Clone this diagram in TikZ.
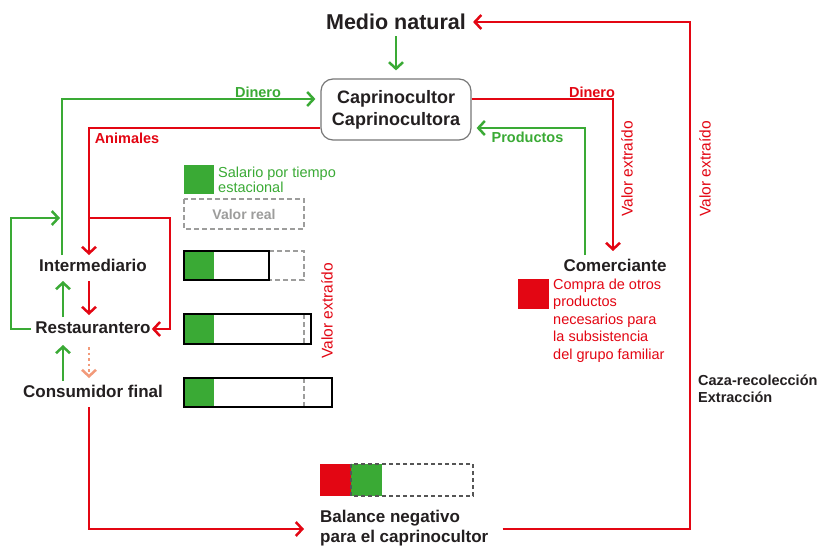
\documentclass[tikz,border=0pt]{standalone}
\usepackage{fontspec}
\setmainfont{Liberation Sans}
\usetikzlibrary{arrows.meta,calc}
\definecolor{cgreen}{HTML}{3AAA35}
\definecolor{cred}{HTML}{E30613}
\definecolor{cdark}{HTML}{231F20}
\definecolor{cgray}{HTML}{9D9D9C}
\definecolor{cdgray}{HTML}{555555}
\definecolor{csalmon}{HTML}{F29A7A}
\begin{document}
\begin{tikzpicture}[x=1pt,y=-1pt,
  gline/.style={draw=cgreen,line width=2.5pt},
  rline/.style={draw=cred,line width=2.5pt},
  arr/.style={-{Straight Barb[length=6.5pt,width=14pt]}},
  actor/.style={font=\fontsize{17}{20}\selectfont\bfseries,text=cdark,inner sep=0pt,align=center},
  flow/.style={font=\fontsize{14.5}{17}\selectfont\bfseries,inner sep=0pt,anchor=base},
  vext/.style={font=\fontsize{15.5}{18}\selectfont,text=cred,rotate=90,inner sep=0pt},
  note/.style={font=\fontsize{14.5}{17.5}\selectfont,inner sep=0pt,anchor=base west,align=left},
  sbox/.style={draw=black,line width=2.8pt},
  dbox/.style={draw=cgray,line width=2pt,dash pattern=on 5pt off 3pt},
  gfill/.style={fill=cgreen,draw=none},
  rfill/.style={fill=cred,draw=none}
]
\fill[white] (0,0) rectangle (819,546);
\useasboundingbox (0,0) rectangle (819,546);

% main nodes
\node[actor,font=\fontsize{21.5}{24}\selectfont\bfseries] (medio) at (396,22) {Medio natural};
\node[draw=cdgray!80,line width=1.2pt,rounded corners=12pt,minimum width=150pt,minimum height=61pt,
      font=\fontsize{18}{22}\selectfont\bfseries,text=cdark,align=center,inner sep=0pt] (capr) at (396,109.5)
      {Caprinocultor\\Caprinocultora};
\node[actor] (inter) at (93,265) {Intermediario};
\node[actor] (rest) at (93,328) {Restaurantero};
\node[actor] (cons) at (93,391) {Consumidor final};
\node[actor] (comer) at (615,265) {Comerciante};
\node[actor,anchor=west,align=left] (bal) at (320,528) {Balance negativo\\para el caprinocultor};

% junction coordinates
\coordinate (jr) at (89,218);
\coordinate (jg) at (60,218);
\coordinate (jc) at (690,22);

% flows top
\draw[gline,arr] ($(medio.south)+(0,6)$) -- ($(capr.north)+(0,-8)$);
\draw[gline,arr] ($(inter)+(-31,-10)$) |- ($(capr.west)+(-5,-10.5)$);
\draw[rline,arr] ($(capr.west)+(0,18.5)$) -| ($(inter)+(-4,-10)$);
\draw[rline,arr] (jr) -| ($(rest.east)+(19,1)$) -- ($(rest.east)+(1,1)$);
\draw[gline,arr] ($(rest.west)+(-4,1)$) -- ($(rest.west)+(-24,1)$) |- (jg);
\draw[rline,arr] ($(capr.east)+(0,-10.5)$) -| ($(comer)+(-2,-14)$);
\draw[gline,arr] ($(comer)+(-30,-10)$) |- ($(capr.east)+(5,18.5)$);
\draw[rline,arr] ($(bal.east)+(14,1)$) -| (jc) -- ($(medio.east)+(7,0)$);
\draw[rline,arr] ($(cons)+(-4,16)$) |- ($(bal.west)+(-16,1)$);

% vertical chain
\draw[gline,arr] ($(rest)+(-30,-11)$) -- ($(inter)+(-30,16)$);
\draw[rline,arr] ($(inter)+(-4,16)$) -- ($(rest)+(-4,-13)$);
\draw[gline,arr] ($(cons)+(-30,-10)$) -- ($(rest)+(-30,17)$);
\draw[draw=csalmon,line width=2.5pt,dash pattern=on 2.5pt off 3pt,arr] ($(rest)+(-4,19)$) -- ($(cons)+(-4,-13)$);

% flow labels
\node[flow,text=cgreen] (l1) at (258,97) {Dinero};
\node[flow,text=cred] (l2) at (127,143) {Animales};
\node[flow,text=cred] (l3) at (592,97) {Dinero};
\node[flow,text=cgreen] (l4) at (527.5,142) {Productos};
\node[vext] (v1) at (627,169) {Valor extraído};
\node[vext] (v2) at (705,169) {Valor extraído};
\node[vext] (v3) at (327,311) {Valor extraído};

% legend
\fill[gfill] (184,165) rectangle (214,194);
\node[note,text=cgreen,font=\fontsize{14.5}{15}\selectfont] (leg1) at (218,192) {Salario por tiempo\\estacional};
\draw[dbox] (184,199) rectangle (304,229);
\node[font=\fontsize{14}{16}\selectfont\bfseries,text=cgray,inner sep=0pt] (leg2) at (244,214) {Valor real};

% bars
\fill[gfill] (184,251) rectangle (214,280);
\draw[dbox] (269,251) -- (304,251) -- (304,280) -- (269,280);
\draw[sbox] (184,251) rectangle (269,280);

\fill[gfill] (184,314) rectangle (214,344);
\draw[dbox] (304,314) -- (304,344);
\draw[sbox] (184,314) rectangle (311,344);

\fill[gfill] (184,378) rectangle (214,407);
\draw[dbox] (304,378) -- (304,407);
\draw[sbox] (184,378) rectangle (332,407);

% comerciante note
\fill[rfill] (518,279) rectangle (549,309);
\node[note,text=cred] (compra) at (553,359) {Compra de otros\\productos\\necesarios para\\la subsistencia\\del grupo familiar};

\node[note,text=cdark,font=\fontsize{14.5}{17.5}\selectfont\bfseries] (caza) at (698,402.5) {Caza-recolección\\Extracción};

% balance bar
\fill[rfill] (320,464) rectangle (351,496);
\fill[gfill] (351,464) rectangle (382,496);
\draw[draw=cdgray,line width=2pt,dash pattern=on 4pt off 3pt] (351,464) rectangle (473,496);
\end{tikzpicture}
\end{document}
